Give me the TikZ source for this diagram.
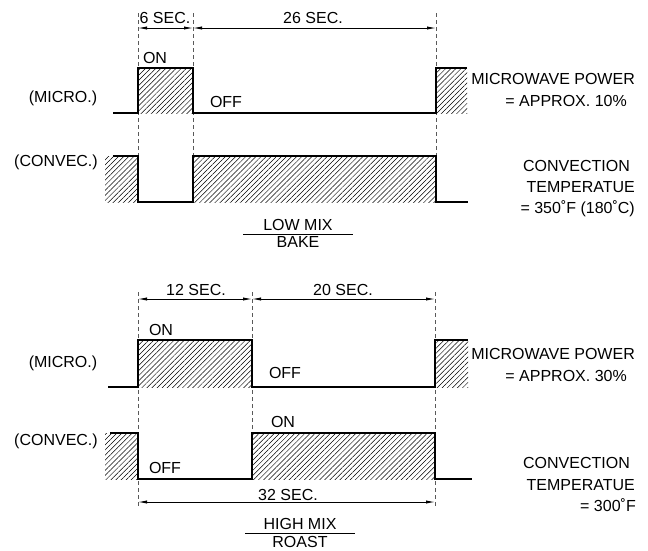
\documentclass[tikz,border=0pt]{standalone}
\usepackage{fontspec}
\setmainfont{Liberation Sans}
\usetikzlibrary{arrows.meta,patterns.meta}

\begin{document}
\begin{tikzpicture}[x=1pt, y=-1pt, font=\fontsize{16}{21.5}\selectfont]
\tikzstyle{wave}=[line width=1.7pt, line join=miter]
\tikzstyle{hatch}=[pattern={Lines[angle=45,distance=3.6pt,line width=0.5pt]}]
\tikzstyle{guide}=[line width=0.7pt, gray!70!black, dash pattern=on 4pt off 3pt]
\tikzstyle{dim}=[line width=0.8pt, {Latex[length=9pt,width=3.2pt]}-{Latex[length=9pt,width=3.2pt]}]
\tikzstyle{txt}=[inner sep=0pt, anchor=base]
\tikzstyle{rtxt}=[inner sep=0pt, anchor=base east]
\useasboundingbox (0,0) rectangle (648,550);

% ---------- low mix / bake ----------
\coordinate (t1) at (138,13);
\coordinate (t2) at (193,13);
\coordinate (t3) at (436,13);
\draw[guide] (t1) -- (138,156);
\draw[guide] (t2) -- (193,156);
\draw[guide] (t3) -- (436,156);
\draw[dim] (138,28) -- (193,28);
\draw[dim] (193,28) -- (436,28);
\node[txt] (sixsec) at (165,23) {6 SEC.};
\node[txt] (twsixsec) at (313,23) {26 SEC.};

\fill[hatch] (138,68) rectangle (193,113);
\fill[hatch] (436,68) rectangle (467,113);
\draw[wave] (113,113) -- (138,113) -- (138,68) -- (193,68) -- (193,113)
  -- (436,113) -- (436,68) -- (467,68);
\node[txt] (onA) at (155,63) {ON};
\node[txt] (offA) at (226,107) {OFF};

\fill[hatch] (105,156) rectangle (138,202);
\fill[hatch] (193,156) rectangle (436,202);
\draw[wave] (113,156) -- (138,156) -- (138,202) -- (193,202) -- (193,156)
  -- (436,156) -- (436,202) -- (468,202);

\node[txt] (micA) at (63,102) {(MICRO.)};
\node[txt] (convA) at (56,166) {(CONVEC.)};

\node[rtxt] (powA) at (635,84) {MICROWAVE POWER};
\node[rtxt] (apxA) at (627,106) {= APPROX. 10\%};
\node[rtxt] (cvA) at (630,171) {CONVECTION};
\node[rtxt] (tmA) at (635,192) {TEMPERATUE};
\node[rtxt] (dgA) at (635,213) {= 350˚F (180˚C)};

\node[txt] (lowmix) at (298,230) {LOW MIX};
\draw[line width=0.8pt] (243,234) -- (353,234);
\node[txt] (bake) at (298,247) {BAKE};

% ---------- high mix / roast ----------
\coordinate (b1) at (138,292);
\coordinate (b2) at (252,292);
\coordinate (b3) at (435,292);
\draw[guide] (b1) -- (138,506);
\draw[guide] (b2) -- (252,433);
\draw[guide] (b3) -- (435,506);
\draw[dim] (138,299) -- (252,299);
\draw[dim] (252,299) -- (435,299);
\node[txt] (twelvesec) at (196,295) {12 SEC.};
\node[txt] (twentysec) at (343,295) {20 SEC.};

\fill[hatch] (138,340) rectangle (252,387);
\fill[hatch] (435,340) rectangle (468,387);
\draw[wave] (108,387) -- (138,387) -- (138,340) -- (252,340) -- (252,387)
  -- (435,387) -- (435,340) -- (468,340);
\node[txt] (onB) at (161,335) {ON};
\node[txt] (offB) at (285,378) {OFF};

\fill[hatch] (105,433) rectangle (138,479);
\fill[hatch] (252,433) rectangle (435,479);
\draw[wave] (110,433) -- (138,433) -- (138,479) -- (252,479) -- (252,433)
  -- (435,433) -- (435,479) -- (472,479);
\node[txt] (onC) at (283,427) {ON};
\node[txt] (offC) at (165,473) {OFF};

\draw[dim] (138,502) -- (435,502);
\node[txt] (thtwosec) at (288,500) {32 SEC.};

\node[txt] (micB) at (63,367) {(MICRO.)};
\node[txt] (convB) at (56,445) {(CONVEC.)};

\node[rtxt] (powB) at (635,359) {MICROWAVE POWER};
\node[rtxt] (apxB) at (627,381) {= APPROX. 30\%};
\node[rtxt] (cvB) at (630,468) {CONVECTION};
\node[rtxt] (tmB) at (635,490) {TEMPERATUE};
\node[rtxt] (dgB) at (636,511) {= 300˚F};

\node[txt] (highmix) at (300,529) {HIGH MIX};
\draw[line width=0.8pt] (245,533) -- (355,533);
\node[txt] (roast) at (300,547.5) {ROAST};
\end{tikzpicture}
\end{document}
